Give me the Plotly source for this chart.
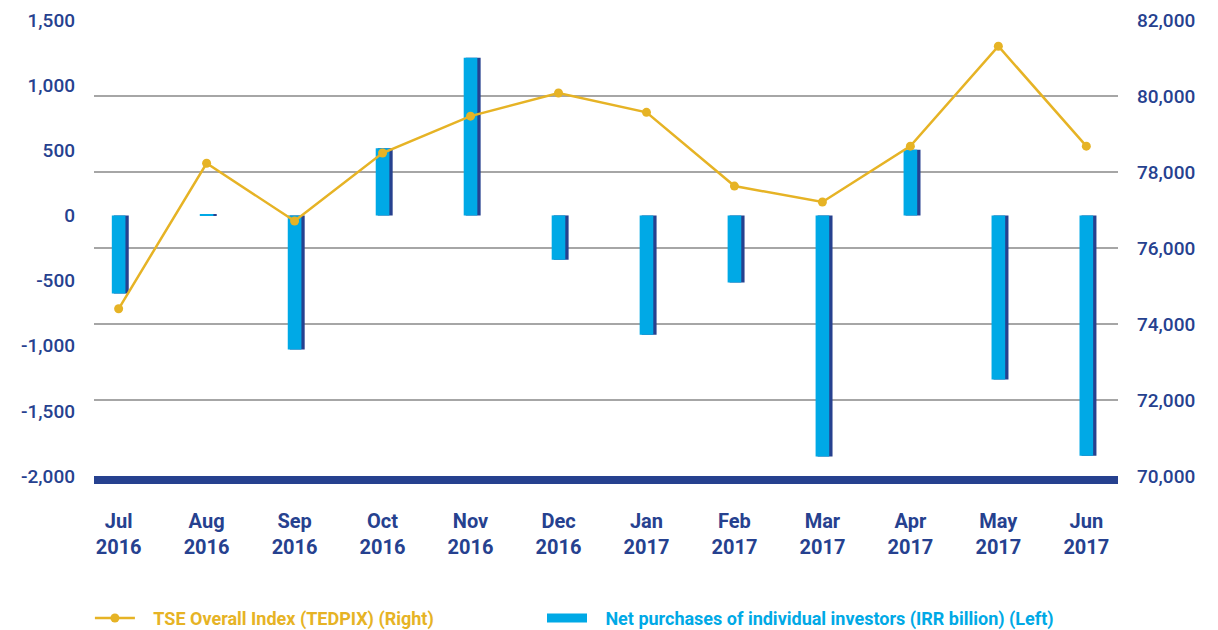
import plotly.graph_objects as go

months = ["Jul<br>2016", "Aug<br>2016", "Sep<br>2016", "Oct<br>2016", "Nov<br>2016", "Dec<br>2016",
          "Jan<br>2017", "Feb<br>2017", "Mar<br>2017", "Apr<br>2017", "May<br>2017", "Jun<br>2017"]
net_purchases = [-600, 10, -1030, 515, 1210, -340, -915, -515, -1850, 505, -1260, -1845]
tedpix = [74400, 78230, 76710, 78500, 79470, 80080, 79570, 77630, 77210, 78680, 81310, 78680]
left_ticks = [-2000, -1500, -1000, -500, 0, 500, 1000, 1500]
left_labels = ["-2,000", "-1,500", "-1,000", "-500", "0", "500", "1,000", "1,500"]
right_ticks = [70000, 72000, 74000, 76000, 78000, 80000, 82000]
right_labels = ["70,000", "72,000", "74,000", "76,000", "78,000", "80,000", "82,000"]

idx = list(range(len(months)))
DARK = "#26418F"
CYAN = "#00A9E6"
GOLD = "#E6B325"
PAD = "&nbsp;&nbsp;&nbsp;"

fig = go.Figure()
# dark side of the bars (3D look)
fig.add_trace(go.Bar(x=[i + 0.03 for i in idx], y=net_purchases, width=0.17,
                     marker=dict(color=DARK, line=dict(width=0)), showlegend=False,
                     hoverinfo="skip", yaxis="y"))
fig.add_trace(go.Bar(x=idx, y=net_purchases, width=0.155,
                     marker=dict(color=CYAN, line=dict(width=0)),
                     name="Net purchases of individual investors (IRR billion) (Left)",
                     showlegend=False, yaxis="y"))
# legend-only entry giving the wide rectangular swatch of the bars
fig.add_trace(go.Scatter(x=[None], y=[None], mode="lines",
                         line=dict(color=CYAN, width=9),
                         name=PAD + "<b><span style='color:%s'>Net purchases of individual investors (IRR billion) (Left)</span></b>" % CYAN,
                         legend="legend2", yaxis="y"))
fig.add_trace(go.Scatter(x=idx, y=tedpix, mode="lines+markers",
                         line=dict(color=GOLD, width=2.5),
                         marker=dict(color=GOLD, size=9),
                         name=PAD + "<b><span style='color:%s'>TSE Overall Index (TEDPIX) (Right)</span></b>" % GOLD,
                         yaxis="y2", legend="legend"))

tickfont = dict(size=19, color=DARK, family="Roboto", weight=500)
fig.update_layout(
    width=1210, height=622,
    margin=dict(l=86, r=100, t=12, b=154, autoexpand=False),
    plot_bgcolor="white", paper_bgcolor="white",
    barmode="overlay",
    font=dict(family="Roboto", color=DARK),
    xaxis=dict(tickmode="array", tickvals=idx, ticktext=["<b>%s</b>" % m for m in months],
               range=[-0.28, 11.36], showgrid=False, zeroline=False,
               showline=True, linecolor=DARK, linewidth=8,
               tickfont=dict(size=20, color=DARK, family="Roboto"), ticks="",
               ticklabelstandoff=20),
    yaxis=dict(range=[-2000, 1500], tickvals=left_ticks, ticktext=left_labels, showgrid=False,
               zeroline=False, tickfont=tickfont, ticklabelstandoff=18),
    yaxis2=dict(range=[70000, 82000], tickvals=right_ticks, ticktext=right_labels, overlaying="y",
                side="right", showgrid=True, gridcolor="#A6A6A6", gridwidth=1.5, zeroline=False,
                tickfont=tickfont, ticklabelstandoff=18),
    legend=dict(orientation="h", x=-0.004, xanchor="left", y=-0.312, yanchor="middle",
                font=dict(size=18, family="Roboto"), itemwidth=40),
    legend2=dict(orientation="h", x=0.4375, xanchor="left", y=-0.312, yanchor="middle",
                 font=dict(size=18, family="Roboto"), itemwidth=40),
    showlegend=True,
)

fig.write_html("out.html")
